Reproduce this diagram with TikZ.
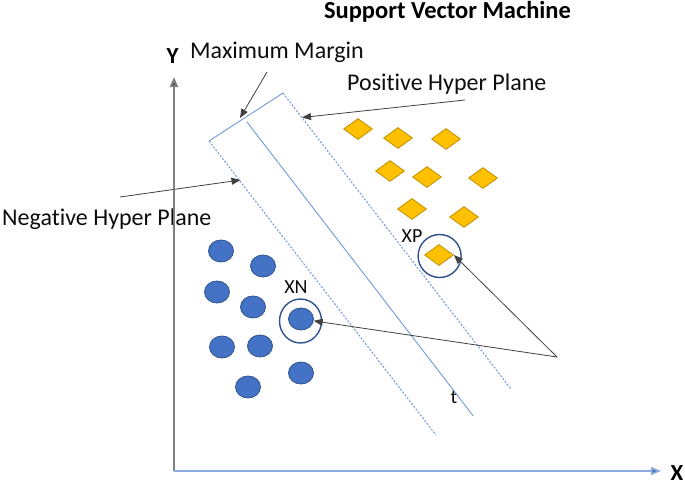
\documentclass[tikz,border=0pt]{standalone}
\usepackage{fontspec}
\setmainfont{Carlito}[Ligatures=NoCommon]
\usetikzlibrary{arrows.meta,shapes.geometric}
\definecolor{dotfill}{HTML}{4472C4}
\definecolor{dotline}{HTML}{2F528F}
\definecolor{diafill}{HTML}{FFC000}
\definecolor{dialine}{HTML}{BF9000}
\definecolor{planeblue}{HTML}{7098DA}
\definecolor{xaxis}{HTML}{8FAADC}
\definecolor{yaxis}{HTML}{7F7F7F}
\definecolor{arrgray}{HTML}{404040}
\definecolor{txt}{HTML}{0D0D0D}
\tikzset{
  lbl/.style={font=\fontsize{24}{28}\selectfont, text=txt, inner sep=0pt, anchor=base west},
  smalllbl/.style={font=\fontsize{20}{24}\selectfont, text=txt, inner sep=0pt, anchor=base},
  axlbl/.style={font=\bfseries\fontsize{23}{27}\selectfont, inner sep=0pt, anchor=base},
  dot/.style={ellipse, draw=dotline, fill=dotfill, line width=0.8pt, inner sep=0pt, minimum width=25pt, minimum height=22pt},
  dia/.style={diamond, draw=dialine, fill=diafill, line width=0.8pt, inner sep=0pt, minimum width=29pt, minimum height=21pt},
  ring/.style={draw=dotline, line width=1.4pt, inner sep=0pt},
  plane/.style={draw=planeblue, line width=0.9pt},
  dplane/.style={draw=planeblue, line width=1pt, dash pattern=on 2pt off 1.6pt},
  pointer/.style={draw=arrgray, line width=0.8pt, -{Triangle[length=9pt,width=7pt]}},
}
\begin{document}
\begin{tikzpicture}[x=1pt,y=-1pt]
\useasboundingbox (0,0) rectangle (685,485);

% texts
\node[font=\bfseries\fontsize{24.5}{28}\selectfont, inner sep=0pt, anchor=base] (title) at (447.5,18) {Support Vector Machine};
\node[lbl] (mm) at (190,58) {Maximum Margin};
\node[lbl] (ph) at (347,90) {Positive Hyper Plane};
\node[lbl] (nh) at (2,225) {Negative Hyper Plane};
\node[smalllbl] (xp) at (412,242) {XP};
\node[smalllbl] (xn) at (296,293) {XN};
\node[smalllbl] (tl) at (454,403) {t};

% hyperplanes
\coordinate (A) at (209,141);
\coordinate (B) at (283,93);
\coordinate (C) at (511,389);
\coordinate (D) at (436,435);
\coordinate (M1) at (246.7,121.7);
\coordinate (M2) at (473.3,416);
\draw[plane] (A) -- (B);
\draw[dplane] (B) -- (C);
\draw[dplane] (A) -- (D);
\draw[plane] (M1) -- (M2);

% diamonds
\node[dia] (p1) at (358,129) {};
\node[dia] (p2) at (398,138) {};
\node[dia] (p3) at (446,139) {};
\node[dia] (p4) at (390,171) {};
\node[dia] (p5) at (427,177) {};
\node[dia] (p6) at (483,178) {};
\node[dia] (p7) at (412,209) {};
\node[dia] (p8) at (464,217) {};
\node[dia] (p9) at (439,255) {};
\node[ring, circle, minimum size=43pt] (rp) at (439.6,256) {};

% dots
\node[dot] (n1) at (221,251) {};
\node[dot] (n2) at (263,266) {};
\node[dot] (n3) at (217,292) {};
\node[dot] (n4) at (253,307) {};
\node[dot] (n5) at (301,319) {};
\node[dot] (n6) at (222,347) {};
\node[dot] (n7) at (260,346) {};
\node[dot] (n8) at (301,373) {};
\node[dot] (n9) at (248,387) {};
\node[ring, ellipse, minimum width=42pt, minimum height=44pt] (rn) at (300.5,321) {};

% pointers
\coordinate (mmS) at (267,72);
\coordinate (mmT) at (240,118);
\coordinate (phS) at (465,100);
\coordinate (phT) at (302,117.5);
\coordinate (nhS) at (120,197);
\coordinate (nhT) at (240.5,180);
\coordinate (S) at (557,357);
\draw[pointer] (mmS) -- (mmT);
\draw[pointer] (phS) -- (phT);
\draw[pointer] (nhS) -- (nhT);
\draw[pointer] (S) -- (p9.east);
\draw[pointer] (S) -- (n5);

% axes
\coordinate (O) at (174,471);
\coordinate (Yend) at (174,77);
\coordinate (Xend) at (661,471);
\draw[draw=yaxis, line width=2pt, -{Triangle[length=10pt,width=8pt,fill=arrgray]}] (O) -- (Yend);
\draw[draw=xaxis, line width=1.6pt, -{Triangle[length=10pt,width=8pt,fill=dotfill]}] (O) -- (Xend);
\node[axlbl] (ylab) at (172.5,63) {Y};
\node[axlbl] (xlab) at (677,480.5) {X};
\end{tikzpicture}
\end{document}
